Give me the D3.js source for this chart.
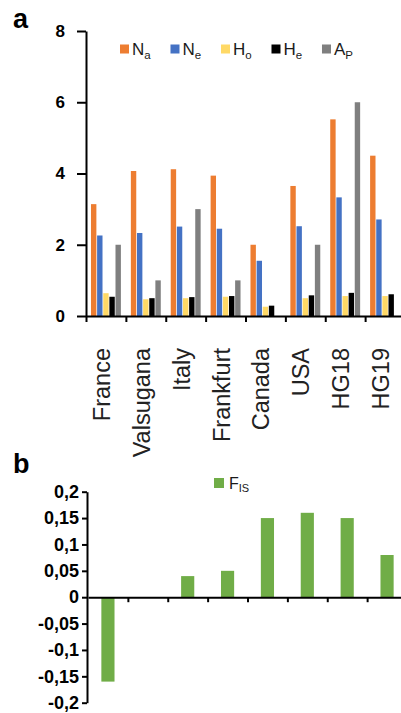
<!DOCTYPE html>
<html>
<head>
<meta charset="utf-8">
<script src="https://cdn.jsdelivr.net/npm/d3@7"></script>
<style>
    body { margin: 0; background: #fff; }
    svg { display: block; font-family: 'Liberation Sans', Arial, sans-serif; }
</style>
</head>
<body>
<svg id="chart" width="401" height="713"></svg>
<script>
// populations on the x axis of both panels
let populations = ['France', 'Valsugana', 'Italy', 'Frankfurt', 'Canada', 'USA', 'HG18', 'HG19'];

// panel a series
let na = [3.14, 4.07, 4.12, 3.94, 2.0, 3.65, 5.52, 4.5];
let ne = [2.26, 2.33, 2.51, 2.45, 1.55, 2.52, 3.33, 2.71];
let ho = [0.64, 0.47, 0.5, 0.54, 0.26, 0.5, 0.56, 0.56];
let he = [0.54, 0.5, 0.53, 0.56, 0.29, 0.58, 0.65, 0.61];
let ap = [2, 1, 3, 1, 0, 2, 6, 0];

// panel b series
let fis = [-0.16, 0, 0.04, 0.05, 0.15, 0.16, 0.15, 0.08];

let seriesKeys = ['Na', 'Ne', 'Ho', 'He', 'Ap'];
let seriesMain = ['N', 'N', 'H', 'H', 'A'];
let seriesSub = ['a', 'e', 'o', 'e', 'P'];
let seriesColors = ['#ed7d31', '#4472c4', '#ffd966', '#000000', '#7f7f7f'];
let seriesValues = [na, ne, ho, he, ap];

let ticksA = [0, 2, 4, 6, 8];
let ticksB = [-0.2, -0.15, -0.1, -0.05, 0, 0.05, 0.1, 0.15, 0.2];

let svg = d3.select('#chart');
let font = "'Liberation Sans', Arial, sans-serif";

function styleAxis(g, size) {
    g.attr('font-family', font);
    g.selectAll('path, line').attr('stroke', '#000').attr('stroke-width', 2);
    g.selectAll('text')
        .attr('fill', '#000')
        .attr('font-size', size)
        .attr('font-weight', 'bold');
}

// ---------- panel a ----------
function drawPanelA() {
    let y = d3.scaleLinear().domain([0, 8]).range([316, 31]);
    let x = d3.scaleBand().domain(populations).range([86, 405])
        .paddingInner(0.25).paddingOuter(0.125);
    let xs = d3.scaleBand().domain(seriesKeys).range([0, x.bandwidth()]).paddingInner(0.12);
    let edges = d3.scaleLinear().domain([0, populations.length]).range([86, 405]);

    let rows = populations.map(function(p, i) {
        return { pop: p, values: seriesKeys.map(function(k, j) { return { key: k, color: seriesColors[j], v: seriesValues[j][i] }; }) };
    });

    let groups = svg.append('g').selectAll('.grp-a')
        .data(rows)
        .enter().append('g')
        .attr('class', 'grp-a')
        .attr('transform', function(d) { return 'translate(' + x(d.pop) + ',0)'; });

    groups.selectAll('rect')
        .data(function(d) { return d.values; })
        .enter().append('rect')
        .attr('x', function(d) { return xs(d.key); })
        .attr('y', function(d) { return y(d.v); })
        .attr('width', xs.bandwidth())
        .attr('height', function(d) { return y(0) - y(d.v); })
        .attr('fill', function(d) { return d.color; });

    svg.append('g')
        .attr('transform', 'translate(0,' + y(0) + ')')
        .call(d3.axisBottom(edges).tickValues(d3.range(0, populations.length + 1)).tickSize(6).tickSizeOuter(0).tickFormat(''))
        .call(styleAxis, 16);

    svg.append('g')
        .attr('transform', 'translate(86,0)')
        .call(d3.axisLeft(y).tickValues(ticksA).tickSize(9).tickPadding(12).tickSizeOuter(0))
        .call(styleAxis, 17);

    // rotated category labels
    svg.append('g').selectAll('text')
        .data(populations)
        .enter().append('text')
        .attr('transform', function(d) { return 'translate(' + (x(d) + x.bandwidth() / 2 + 4) + ',348) rotate(-90)'; })
        .attr('text-anchor', 'end')
        .attr('font-size', 23.5)
        .attr('fill', '#222')
        .text(function(d) { return d; });

    // legend
    let legend = svg.append('g');
    let items = legend.selectAll('g')
        .data(seriesKeys)
        .enter().append('g');
    items.append('rect')
        .attr('y', 44.5).attr('width', 9).attr('height', 9)
        .attr('fill', function(d, i) { return seriesColors[i]; });
    let txt = items.append('text')
        .attr('x', 12).attr('y', 55)
        .attr('font-size', 17)
        .attr('fill', '#1a1a1a');
    txt.append('tspan').text(function(d, i) { return seriesMain[i]; });
    txt.append('tspan').attr('font-size', 11.5).attr('dy', 4).text(function(d, i) { return seriesSub[i]; });

    let widths = [];
    txt.each(function() { widths.push(12 + this.getComputedTextLength()); });
    let gap = (353 - 120 - d3.sum(widths)) / (widths.length - 1);
    let pos = 120;
    items.attr('transform', function(d, i) {
        let t = 'translate(' + pos + ',0)';
        pos += widths[i] + gap;
        return t;
    });

    svg.append('text')
        .attr('x', 13).attr('y', 28)
        .attr('font-size', 27).attr('font-weight', 'bold')
        .text('a');
}

// ---------- panel b ----------
function drawPanelB() {
    let y = d3.scaleLinear().domain([-0.2, 0.2]).range([702.7, 491.7]);
    let x = d3.scaleBand().domain(populations).range([88, 407])
        .paddingInner(0.67).paddingOuter(0.335);
    let edges = d3.scaleLinear().domain([0, populations.length]).range([88, 407]);

    svg.append('g').selectAll('rect')
        .data(populations)
        .enter().append('rect')
        .attr('x', function(d) { return x(d); })
        .attr('y', function(d, i) { return y(Math.max(0, fis[i])); })
        .attr('width', x.bandwidth())
        .attr('height', function(d, i) { return Math.abs(y(fis[i]) - y(0)); })
        .attr('fill', '#70ad47');

    svg.append('g')
        .attr('transform', 'translate(0,' + y(0) + ')')
        .call(d3.axisBottom(edges).tickValues(d3.range(1, populations.length + 1)).tickSize(5).tickSizeOuter(0).tickFormat(''))
        .call(styleAxis, 18);

    svg.append('g')
        .attr('transform', 'translate(87,0)')
        .call(d3.axisLeft(y).tickValues(ticksB).tickSize(5).tickPadding(3).tickSizeOuter(0)
            .tickFormat(function(d) { return String(d).replace('.', ','); }))
        .call(styleAxis, 18);

    svg.append('rect')
        .attr('x', 214).attr('y', 478).attr('width', 10).attr('height', 10)
        .attr('fill', '#70ad47');
    let t = svg.append('text')
        .attr('x', 229).attr('y', 489)
        .attr('font-size', 16).attr('fill', '#1a1a1a');
    t.append('tspan').text('F');
    t.append('tspan').attr('font-size', 11).attr('dy', 3).text('IS');

    svg.append('text')
        .attr('x', 13).attr('y', 473)
        .attr('font-size', 27).attr('font-weight', 'bold')
        .text('b');
}

drawPanelA();
drawPanelB();
</script>
</body>
</html>
